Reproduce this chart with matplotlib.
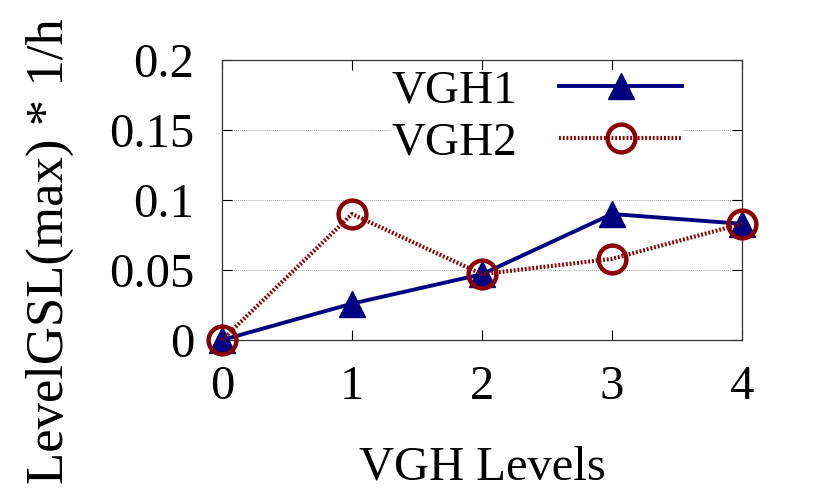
import matplotlib
matplotlib.use('Agg')
import matplotlib.pyplot as plt

levels = [0, 1, 2, 3, 4]
vgh1 = [0.0, 0.026, 0.047, 0.090, 0.083]
vgh2 = [0.0, 0.090, 0.047, 0.058, 0.083]
yticks = [0, 0.05, 0.1, 0.15, 0.2]
ytick_labels = ['0', '0.05', '0.1', '0.15', '0.2']

plt.rcParams['font.family'] = ['Liberation Serif', 'DejaVu Serif']

fig = plt.figure(figsize=(8.3, 4.99), dpi=100)
ax = fig.add_axes([0.2675, 0.3186, 0.6265, 0.5612])

ax.plot(levels, vgh1, color='#000080', linewidth=2.8, marker='^',
        markersize=19, label='VGH1', clip_on=False, zorder=3)
ax.plot(levels, vgh2, color='#8b0000', linewidth=3.0, linestyle=(0, (0.45, 0.45)),
        marker='o', markersize=20, markerfacecolor='none', markeredgewidth=3.2,
        label='VGH2', clip_on=False, zorder=4)

ax.set_xlim(0, 4)
ax.set_ylim(0, 0.2)
ax.set_xticks(levels)
ax.set_yticks(yticks)
ax.set_yticklabels(ytick_labels)
ax.tick_params(direction='in', length=7, width=0.8, labelsize=35,
               top=True, right=True)
ax.tick_params(axis='x', pad=18)
ax.tick_params(axis='y', pad=20)
ax.yaxis.grid(True, color='#aaaaaa', linestyle=(0, (1, 1)), linewidth=0.7)
for s in ax.spines.values():
    s.set_linewidth(0.9)
    s.set_color('#333333')

ax.set_xlabel('VGH Levels', fontsize=35, labelpad=26)
# y label sits lower than the axes centre in the original
fig.text(50 / 830, 1 - 251 / 499, 'LevelGSL(max) * 1/h', fontsize=38,
         rotation=90, ha='center', va='center')

leg = ax.legend(loc='upper right', bbox_to_anchor=(0.885, 0.965), fontsize=34,
                markerfirst=False, handlelength=2.6, frameon=True,
                facecolor='white', edgecolor='none', framealpha=1,
                borderpad=0.0, borderaxespad=0.0, labelspacing=0.18,
                handletextpad=0.9)

fig.savefig('out.png', dpi=100)
